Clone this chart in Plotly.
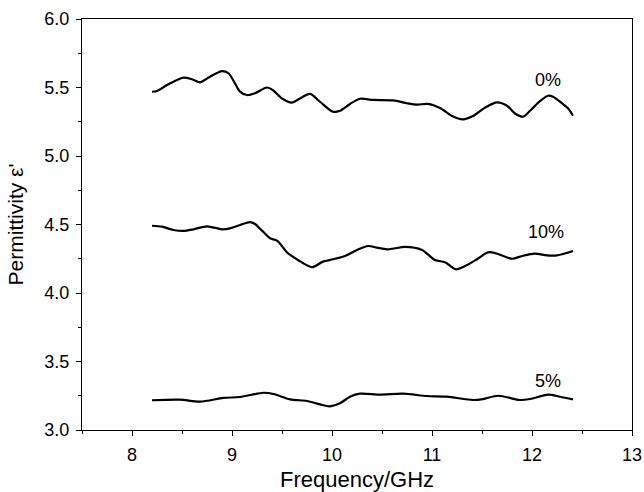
import plotly.graph_objects as go

# 0% curve
x0 = [8.2, 8.25, 8.35, 8.415, 8.515, 8.6, 8.68, 8.78, 8.9, 8.965, 9.03, 9.08, 9.15, 9.23, 9.35, 9.41,
      9.5, 9.6, 9.68, 9.78, 9.88, 10.01, 10.08, 10.18, 10.28, 10.41, 10.61, 10.75, 10.85, 10.96,
      11.08, 11.2, 11.31, 11.41, 11.53, 11.65, 11.75, 11.83, 11.91, 11.98, 12.08, 12.16, 12.21,
      12.30, 12.36, 12.41]
y0 = [5.469, 5.475, 5.518, 5.542, 5.572, 5.56, 5.538, 5.579, 5.62, 5.604, 5.53, 5.47, 5.445, 5.458,
      5.50, 5.48, 5.42, 5.39, 5.42, 5.453, 5.396, 5.323, 5.33, 5.38, 5.418, 5.409, 5.406, 5.385,
      5.375, 5.38, 5.35, 5.292, 5.268, 5.292, 5.353, 5.392, 5.367, 5.31, 5.287, 5.33, 5.40, 5.44,
      5.433, 5.385, 5.348, 5.294]

# 10% curve
x10 = [8.2, 8.3, 8.415, 8.515, 8.615, 8.75, 8.9, 8.98, 9.08, 9.18, 9.23, 9.3, 9.38, 9.45, 9.56,
       9.66, 9.8, 9.91, 10.01, 10.13, 10.25, 10.36, 10.45, 10.55, 10.62, 10.73, 10.9, 11.03,
       11.13, 11.24, 11.35, 11.45, 11.56, 11.66, 11.8, 11.9, 12.03, 12.15, 12.25, 12.41]
y10 = [4.491, 4.484, 4.46, 4.453, 4.465, 4.487, 4.465, 4.472, 4.496, 4.518, 4.504, 4.455, 4.40,
       4.382, 4.29, 4.241, 4.188, 4.229, 4.246, 4.27, 4.314, 4.343, 4.331, 4.319, 4.325, 4.336,
       4.314, 4.241, 4.224, 4.173, 4.204, 4.246, 4.297, 4.285, 4.25, 4.27, 4.287, 4.275, 4.275,
       4.307]

# 5% curve
x5 = [8.2, 8.48, 8.68, 8.915, 9.08, 9.315, 9.415, 9.58, 9.75, 9.88, 9.98, 10.08, 10.18, 10.28,
      10.48, 10.71, 10.95, 11.15, 11.41, 11.51, 11.66, 11.88, 11.98, 12.16, 12.28, 12.41]
y5 = [3.217, 3.221, 3.207, 3.234, 3.241, 3.272, 3.263, 3.224, 3.212, 3.187, 3.173, 3.195, 3.243,
      3.265, 3.258, 3.265, 3.248, 3.243, 3.219, 3.226, 3.25, 3.219, 3.226, 3.258, 3.243, 3.224]

labels = ["0%", "10%", "5%"]
label_x = [12.16, 12.14, 12.16]
label_y = [5.555, 4.447, 3.36]

FONT = "Liberation Sans, Arial"

fig = go.Figure()
for xs, ys in [(x0, y0), (x10, y10), (x5, y5)]:
    fig.add_trace(go.Scatter(x=xs, y=ys, mode="lines",
                             line=dict(color="black", width=2.2, shape="spline", smoothing=0.8),
                             showlegend=False))

for t, lx, ly in zip(labels, label_x, label_y):
    fig.add_annotation(x=lx, y=ly, text=t, showarrow=False,
                       font=dict(size=18, color="black", family=FONT))

axis_common = dict(showline=True, linecolor="black", linewidth=1, mirror=True, automargin=False,
                   ticks="outside", ticklen=5, tickcolor="black", showgrid=False, zeroline=False,
                   tickfont=dict(size=18, color="black", family=FONT))

fig.update_xaxes(range=[7.5, 13], dtick=1, tick0=8, ticklabelstandoff=3,
                 minor=dict(ticks="outside", ticklen=3, dtick=0.5, tick0=7.5, tickcolor="black"),
                 title=dict(text="Frequency/GHz",
                            font=dict(size=22, color="black", family=FONT)),
                 **axis_common)
fig.update_yaxes(range=[3.0, 6.0], dtick=0.5, tick0=3.0, tickformat=".1f", ticklabelstandoff=3,
                 minor=dict(ticks="outside", ticklen=3, dtick=0.25, tick0=3.0, tickcolor="black"),
                 title=dict(text="Permittivity ε'",
                            font=dict(size=21, color="black", family=FONT)),
                 **axis_common)

fig.update_layout(width=644, height=492, margin=dict(l=82, r=12, t=19, b=62),
                  plot_bgcolor="white", paper_bgcolor="white")

fig.write_html("out.html")
